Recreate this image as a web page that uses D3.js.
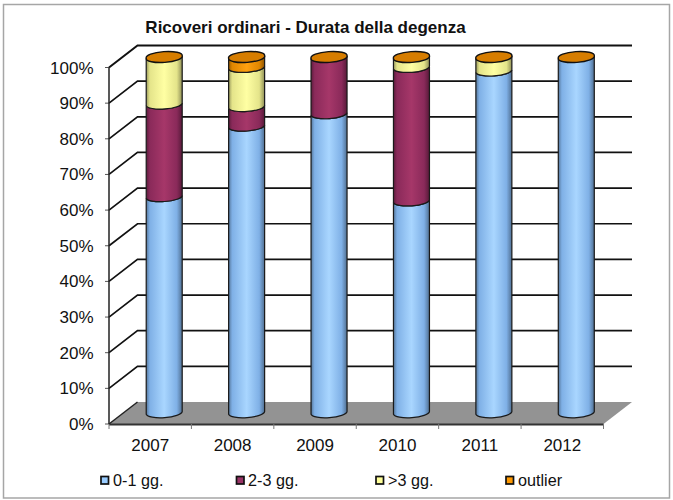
<!DOCTYPE html>
<html><head><meta charset="utf-8">
<script src="https://cdn.jsdelivr.net/npm/d3@7"></script>
<style>html,body{margin:0;padding:0;background:#fff}svg{display:block}text{font-family:"Liberation Sans",Arial,sans-serif;fill:#111}</style>
</head><body><svg id="c" width="673" height="500"></svg>
<script>
const years=["2007","2008","2009","2010","2011","2012"];
const seriesNames=["0-1 gg.","2-3 gg.",">3 gg.","outlier"];
const s01=[60.7,80.5,84,59.5,96,100];
const s23=[26,5.5,16,37.5,0,0];
const s3p=[13.3,11,0,3,4,0];
const sOut=[0,3,0,0,0,0];
const ticks=[0,10,20,30,40,50,60,70,80,90,100];
const title="Ricoveri ordinari - Durata della degenza";
const colors=[["#7fb0e6","#a9d6ff"],["#8a2a5a","#a63769"],["#e4e48a","#ffffa3"],["#e08600","#ffa010"]];
const legendSwatch=["#99ccff","#993366","#ffff99","#ff9900"];
const legendX=[101,236.5,376,506];
const legendTextX=[113,248,388,518];

const svg=d3.select("#c");
const defs=svg.append("defs");
colors.forEach((c,i)=>{
  const g=defs.append("linearGradient").attr("id","g"+i);
  [[0,d3.color(c[0]).darker(1.1)],[.1,c[0]],[.5,c[1]],[.85,c[0]],[1,d3.color(c[0]).darker(1.3)]].forEach(([o,k])=>g.append("stop").attr("offset",o).attr("stop-color",k));
});
const dx=28.5,dy=-22;
const x=d3.scaleBand().domain(years).range([109,603.5]);
const y=d3.scaleLinear().domain([0,100]).range([424,67.5]);
const yb=d3.scaleLinear().domain([0,100]).range([413,57]);

svg.append("rect").attr("x",3.5).attr("y",4.5).attr("width",666).attr("height",493.5).attr("fill","#fff").attr("stroke","#a6a6a6").attr("stroke-width",1.5);

const x0=x.range()[0],x1=x.range()[1];
svg.append("path").attr("d",`M${x0},${y(0)}L${x0+dx},${y(0)+dy}L${x1+dx},${y(0)+dy}L${x1},${y(0)}Z`).attr("fill","#939393");
svg.append("line").attr("x1",x0).attr("x2",x1).attr("y1",y(0)+.5).attr("y2",y(0)+.5).attr("stroke","#333").attr("stroke-width",2);
ticks.forEach(t=>{
  const yy=y(t);
  if(t>0) svg.append("path").attr("d",`M${x0},${yy}L${x0+dx},${yy+dy}L${x1+dx},${yy+dy}`).attr("fill","none").attr("stroke","#111").attr("stroke-width",t==100?2:1.7);
  else svg.append("line").attr("x1",x0).attr("x2",x0+dx).attr("y1",yy).attr("y2",yy+dy).attr("stroke","#222").attr("stroke-width",1.5);
  svg.append("line").attr("x1",x0-4).attr("x2",x0).attr("y1",yy).attr("y2",yy).attr("stroke","#555");
  svg.append("text").attr("x",93.5).attr("y",yy+6).attr("text-anchor","end").attr("font-size",17).text(t+"%");
});
svg.append("line").attr("x1",x0).attr("x2",x0).attr("y1",y(0)).attr("y2",y(100)).attr("stroke","#222").attr("stroke-width",1.5);
x.domain().concat("end").forEach((d,i)=>{
  const px=x0+i*x.step();
  svg.append("line").attr("x1",px).attr("x2",px).attr("y1",y(0)).attr("y2",y(0)+5).attr("stroke","#777");
});
years.forEach(d=>svg.append("text").attr("x",x(d)+x.bandwidth()/2).attr("y",451).attr("text-anchor","middle").attr("font-size",17).text(d));

// slightly tilted cylinders
const rx=18.1,ry=5,tilt=1.3,rot=-4;
const cyl=(cx,a,b)=>`M${cx-18},${a+tilt}A${rx},${ry} ${rot} 0 0 ${cx+18},${a-tilt}L${cx+18},${b-tilt}A${rx},${ry} ${rot} 0 1 ${cx-18},${b+tilt}Z`;
const ell=(cx,b)=>`M${cx-18},${b+tilt}A${rx},${ry} ${rot} 1 1 ${cx+18},${b-tilt}A${rx},${ry} ${rot} 1 1 ${cx-18},${b+tilt}Z`;
const all=[s01,s23,s3p,sOut];
years.forEach((d,i)=>{
  const cx=x(d)+x.bandwidth()/2+14;
  let acc=0;
  all.forEach((s,k)=>{
    const v=s[i]; if(!v) return;
    svg.append("path").attr("d",cyl(cx,yb(acc),yb(acc+v))).attr("fill",`url(#g${k})`).attr("stroke","#1a1a1a").attr("stroke-width",1.2);
    acc+=v;
  });
  svg.append("path").attr("d",ell(cx,yb(acc))).attr("fill","#d67d00").attr("stroke","#111").attr("stroke-width",1.4);
});

svg.append("text").attr("x",305.5).attr("y",33).attr("text-anchor","middle").attr("font-size",17).attr("font-weight","bold").text(title);

seriesNames.forEach((n,i)=>{
  svg.append("rect").attr("x",legendX[i]).attr("y",476.5).attr("width",7.5).attr("height",7.5).attr("fill",legendSwatch[i]).attr("stroke","#111").attr("stroke-width",1.7);
  svg.append("text").attr("x",legendTextX[i]).attr("y",486).attr("font-size",16.2).text(n);
});
</script></body></html>
